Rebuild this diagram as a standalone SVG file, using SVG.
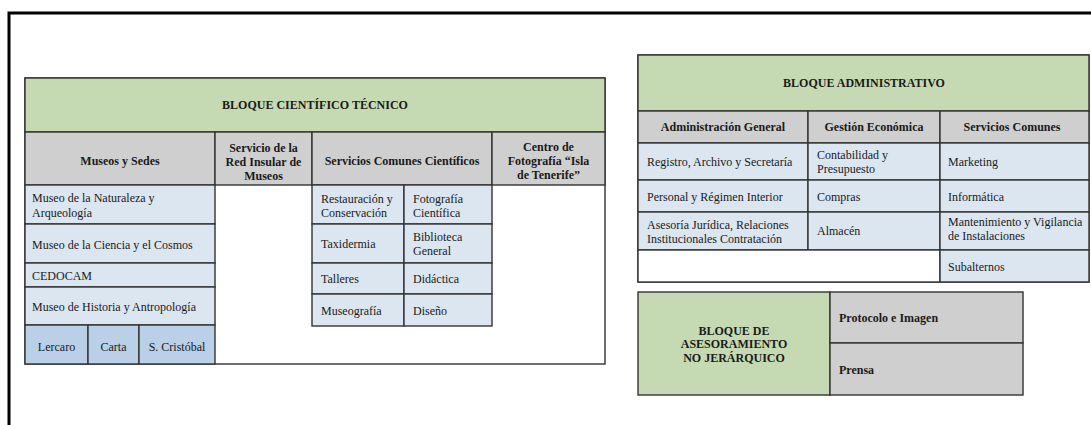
<svg xmlns="http://www.w3.org/2000/svg" width="1091" height="425" viewBox="0 0 1091 425">
  <style>
    .frame { fill: none; stroke: #000; stroke-width: 3; }
    .cell { stroke: #333; stroke-width: 1.4; }
    .green { fill: #c5dab2; }
    .gray { fill: #d0cfcf; }
    .blue { fill: #dbe6f1; }
    .blue2 { fill: #b9d0e6; }
    .white { fill: #fff; }
    text { font-family: "Liberation Serif", "Times New Roman", serif; font-size: 12px; fill: #1a1a1a; }
    .b { font-weight: bold; }
    .c { text-anchor: middle; }
  </style>
  <rect width="1091" height="425" fill="#fff"/>

  <!-- outer frame -->
  <path class="frame" d="M9,425 V13 H1091"/>

  <!-- scientific / technical block -->
  <g id="bloque-cientifico">
    <rect class="cell white" x="25" y="78" width="580" height="286"/>
    <rect class="cell green" x="25" y="78" width="580" height="54"/>
    <text class="b c" x="315" y="109">BLOQUE CIENTÍFICO TÉCNICO</text>

    <rect class="cell gray" x="25" y="132" width="190" height="53"/>
    <rect class="cell gray" x="215" y="132" width="97" height="53"/>
    <rect class="cell gray" x="312" y="132" width="180" height="53"/>
    <rect class="cell gray" x="492" y="132" width="113" height="53"/>
    <text class="b c" x="120" y="165">Museos y Sedes</text>
    <text class="b c" x="263.5" y="152">Servicio de la</text>
    <text class="b c" x="263.5" y="166">Red Insular de</text>
    <text class="b c" x="263.5" y="180">Museos</text>
    <text class="b c" x="402" y="165">Servicios Comunes Científicos</text>
    <text class="b c" x="548.5" y="151">Centro de</text>
    <text class="b c" x="548.5" y="165">Fotografía “Isla</text>
    <text class="b c" x="548.5" y="179">de Tenerife”</text>
  </g>

  <g id="museos-sedes">
    <rect class="cell blue" x="25" y="185" width="190" height="39"/>
    <rect class="cell blue" x="25" y="224" width="190" height="39"/>
    <rect class="cell blue" x="25" y="263" width="190" height="24"/>
    <rect class="cell blue" x="25" y="287" width="190" height="38"/>
    <rect class="cell blue2" x="25" y="325" width="63" height="39"/>
    <rect class="cell blue2" x="88" y="325" width="51" height="39"/>
    <rect class="cell blue2" x="139" y="325" width="76" height="39"/>
    <text x="32" y="202">Museo de la Naturaleza y</text>
    <text x="32" y="217">Arqueología</text>
    <text x="32" y="249">Museo de la Ciencia y el Cosmos</text>
    <text x="32" y="280">CEDOCAM</text>
    <text x="32" y="311">Museo de Historia y Antropología</text>
    <text class="c" x="56.5" y="351">Lercaro</text>
    <text class="c" x="113.5" y="351">Carta</text>
    <text class="c" x="177" y="351">S. Cristóbal</text>
  </g>

  <g id="servicios-cientificos">
    <rect class="cell blue" x="312" y="185" width="92" height="39"/>
    <rect class="cell blue" x="404" y="185" width="88" height="39"/>
    <rect class="cell blue" x="312" y="224" width="92" height="39"/>
    <rect class="cell blue" x="404" y="224" width="88" height="39"/>
    <rect class="cell blue" x="312" y="263" width="92" height="31"/>
    <rect class="cell blue" x="404" y="263" width="88" height="31"/>
    <rect class="cell blue" x="312" y="294" width="92" height="32"/>
    <rect class="cell blue" x="404" y="294" width="88" height="32"/>
    <text x="321" y="203">Restauración y</text>
    <text x="321" y="217">Conservación</text>
    <text x="413" y="203">Fotografía</text>
    <text x="413" y="217">Científica</text>
    <text x="321" y="248">Taxidermia</text>
    <text x="413" y="241">Biblioteca</text>
    <text x="413" y="255">General</text>
    <text x="321" y="283">Talleres</text>
    <text x="413" y="283">Didáctica</text>
    <text x="321" y="315">Museografía</text>
    <text x="413" y="315">Diseño</text>
  </g>

  <!-- administrative block -->
  <g id="bloque-administrativo">
    <rect class="cell white" x="638" y="55" width="451" height="227"/>
    <rect class="cell green" x="638" y="55" width="451" height="56"/>
    <text class="b c" x="864" y="87">BLOQUE ADMINISTRATIVO</text>

    <rect class="cell gray" x="638" y="111" width="170" height="32"/>
    <rect class="cell gray" x="808" y="111" width="132" height="32"/>
    <rect class="cell gray" x="940" y="111" width="149" height="32"/>
    <text class="b c" x="723" y="131">Administración General</text>
    <text class="b c" x="874" y="131">Gestión Económica</text>
    <text class="b c" x="1012" y="131">Servicios Comunes</text>

    <rect class="cell blue" x="638" y="143" width="170" height="37"/>
    <rect class="cell blue" x="808" y="143" width="132" height="37"/>
    <rect class="cell blue" x="940" y="143" width="149" height="37"/>
    <rect class="cell blue" x="638" y="180" width="170" height="32"/>
    <rect class="cell blue" x="808" y="180" width="132" height="32"/>
    <rect class="cell blue" x="940" y="180" width="149" height="32"/>
    <rect class="cell blue" x="638" y="212" width="170" height="38"/>
    <rect class="cell blue" x="808" y="212" width="132" height="38"/>
    <rect class="cell blue" x="940" y="212" width="149" height="38"/>
    <rect class="cell white" x="638" y="250" width="302" height="32"/>
    <rect class="cell blue" x="940" y="250" width="149" height="32"/>

    <text x="647" y="166">Registro, Archivo y Secretaría</text>
    <text x="817" y="159">Contabilidad y</text>
    <text x="817" y="173">Presupuesto</text>
    <text x="948" y="166">Marketing</text>
    <text x="647" y="201">Personal y Régimen Interior</text>
    <text x="817" y="201">Compras</text>
    <text x="948" y="201">Informática</text>
    <text x="647" y="229">Asesoría Jurídica, Relaciones</text>
    <text x="647" y="243">Institucionales Contratación</text>
    <text x="817" y="235">Almacén</text>
    <text x="948" y="226">Mantenimiento y Vigilancia</text>
    <text x="948" y="240">de Instalaciones</text>
    <text x="948" y="271">Subalternos</text>
  </g>

  <!-- non-hierarchical advisory block -->
  <g id="bloque-asesoramiento">
    <rect class="cell green" x="638" y="292" width="192" height="103"/>
    <rect class="cell gray" x="830" y="292" width="193" height="51"/>
    <rect class="cell gray" x="830" y="343" width="193" height="52"/>
    <text class="b c" x="734" y="335">BLOQUE DE</text>
    <text class="b c" x="734" y="348">ASESORAMIENTO</text>
    <text class="b c" x="734" y="362">NO JERÁRQUICO</text>
    <text class="b" x="839" y="322">Protocolo e Imagen</text>
    <text class="b" x="839" y="374">Prensa</text>
  </g>
</svg>
